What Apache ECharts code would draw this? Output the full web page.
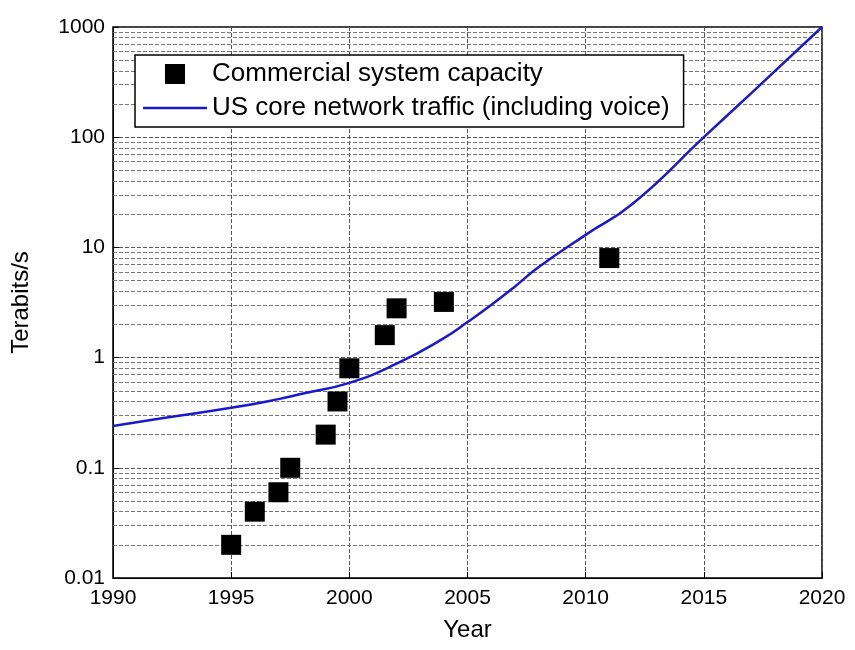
<!DOCTYPE html>
<html><head><meta charset="utf-8">
<script src="https://cdn.jsdelivr.net/npm/echarts@6/dist/echarts.min.js"></script>
<style>html,body{margin:0;background:#fff}#c{width:855px;height:650px}</style>
</head><body><div id="c"></div>
<script>
const capacityPoints = [[1995,0.02],[1996,0.04],[1997,0.06],[1997.5,0.1],[1999,0.2],[1999.5,0.4],[2000,0.8],[2001.5,1.6],[2002,2.8],[2004,3.2],[2011,8]];
const trafficYears = [1990,1992,1995,1997,1998,2000,2002,2004,2005,2006,2007,2008,2010,2012,2015,2017,2020];
const trafficValues = [0.24,0.28,0.35,0.42,0.47,0.59,0.88,1.5,2.1,3,4.4,6.6,13,25,100,250,1000];
const minorGrid = [];
[0.01,0.1,1,10,100].forEach(d => { for (let k = 2; k <= 9; k++) minorGrid.push(+(d*k).toPrecision(3)); });

const font = 'Liberation Sans';
const chart = echarts.init(document.getElementById('c'));
chart.setOption({
  animation: false,
  textStyle: {fontFamily: font},
  grid: {left: 113, right: 33, top: 27, bottom: 72, show: true, borderColor: '#000', borderWidth: 1.5},
  legend: {
    left: 135, top: 55, orient: 'vertical', itemGap: 8, z: 20,
    backgroundColor: '#fff', borderColor: '#000', borderWidth: 1.5, padding: [6, 14, 6, 8],
    textStyle: {fontSize: 26, color: '#000', fontFamily: font},
    itemWidth: 64, itemHeight: 20,
    data: [
      {name: 'Commercial system capacity', icon: 'path://M22,0H42V20H22Z'},
      {name: 'US core network traffic (including voice)', icon: 'path://M0,8.7H64V11.3H0Z'}
    ]
  },
  xAxis: {
    type: 'value', min: 1990, max: 2020, interval: 5,
    name: 'Year', nameLocation: 'middle', nameGap: 40,
    nameTextStyle: {fontSize: 24, color: '#000'},
    axisLine: {lineStyle: {color: '#000'}},
    axisTick: {inside: true, length: 6, lineStyle: {color: '#000'}},
    axisLabel: {fontSize: 21, color: '#000', margin: 10, formatter: v => String(v)},
    splitLine: {lineStyle: {type: 'dashed', color: '#555'}}
  },
  yAxis: {
    type: 'log', min: 0.01, max: 1000, logBase: 10,
    name: 'Terabits/s', nameLocation: 'middle', nameGap: 80,
    nameTextStyle: {fontSize: 24, color: '#000'},
    axisLine: {lineStyle: {color: '#000'}},
    axisTick: {inside: true, length: 6, lineStyle: {color: '#000'}},
    axisLabel: {fontSize: 21, color: '#000', formatter: v => String(+v.toPrecision(3))},
    splitLine: {lineStyle: {type: 'dashed', color: '#555'}}
  },
  series: [
    {
      name: 'grid', type: 'line', data: [], silent: true, z: 1,
      markLine: {silent: true, symbol: 'none', label: {show: false},
        lineStyle: {type: 'dashed', color: '#777', width: 1},
        data: minorGrid.map(v => ({yAxis: v}))}
    },
    {
      name: 'US core network traffic (including voice)', type: 'line', smooth: true,
      symbol: 'none', lineStyle: {color: '#1a1acc', width: 2.5}, itemStyle: {color: '#1a1acc'},
      data: trafficYears.map((y, i) => [y, trafficValues[i]]), z: 8
    },
    {
      name: 'Commercial system capacity', type: 'scatter', symbol: 'rect', symbolSize: 20,
      itemStyle: {color: '#000', opacity: 1}, data: capacityPoints, z: 10
    }
  ]
});
</script></body></html>
